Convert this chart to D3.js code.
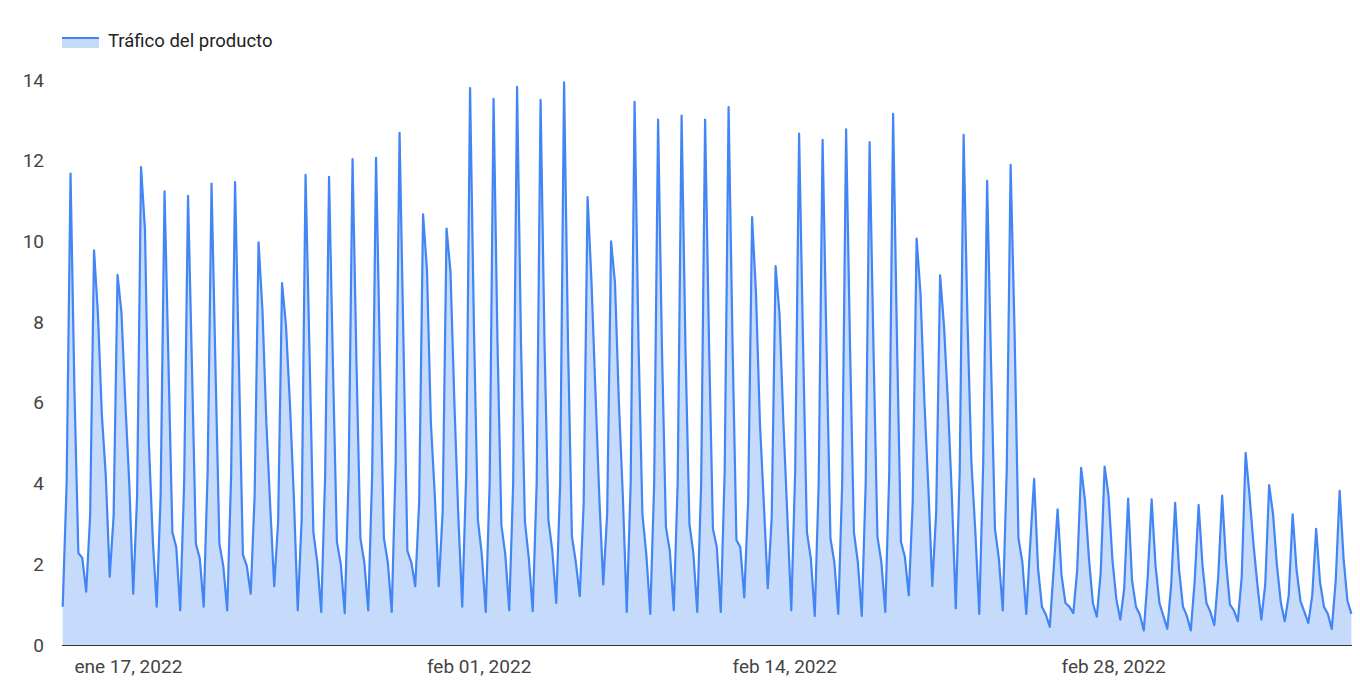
<!DOCTYPE html>
<html>
<head>
<meta charset="utf-8">
<script src="https://cdn.jsdelivr.net/npm/d3@7"></script>
<style>
  html, body { margin: 0; padding: 0; background: #fff; }
  svg { display: block; font-family: Roboto, "Noto Sans", Arial, sans-serif; }
</style>
</head>
<body>
<svg id="chart" width="1360" height="693"></svg>
<script>
// ---- data ----
const seriesName = "Tráfico del producto";
const startTime = Date.UTC(2022, 0, 16, 12); // first 4-hour bucket
const stepHours = 4;
const traffic = [
  0.95, 4.0, 11.68, 6.3, 2.28, 2.16,
  1.32, 3.2, 9.78, 8.2, 5.7, 4.2,
  1.69, 3.2, 9.17, 8.24, 6.0, 4.0,
  1.27, 3.7, 11.84, 10.3, 5.0, 2.6,
  0.95, 3.7, 11.24, 7.0, 2.79, 2.42,
  0.86, 4.0, 11.13, 6.9, 2.51, 2.14,
  0.95, 4.3, 11.43, 6.9, 2.51, 1.96,
  0.86, 4.2, 11.47, 6.9, 2.24, 1.96,
  1.27, 3.7, 9.98, 8.29, 5.5, 3.4,
  1.46, 3.06, 8.97, 7.92, 6.0, 3.7,
  0.86, 3.1, 11.65, 7.3, 2.79, 2.05,
  0.82, 4.2, 11.6, 6.9, 2.56, 2.0,
  0.79, 4.2, 12.04, 7.0, 2.65, 2.05,
  0.86, 4.2, 12.07, 7.0, 2.65, 2.05,
  0.82, 4.5, 12.69, 7.5, 2.33, 2.05,
  1.46, 3.52, 10.67, 9.29, 5.5, 3.7,
  1.46, 3.3, 10.32, 9.25, 6.0, 3.2,
  0.95, 4.2, 13.8, 7.8, 3.1, 2.24,
  0.82, 4.0, 13.53, 7.5, 2.97, 2.24,
  0.86, 4.0, 13.83, 7.5, 3.06, 2.14,
  0.84, 4.0, 13.51, 7.5, 3.1, 2.33,
  1.04, 4.0, 13.94, 7.5, 2.69, 2.05,
  1.21, 3.5, 11.1, 9.0, 6.3, 3.65,
  1.5, 3.25, 10.0, 8.97, 6.0, 3.7,
  0.82, 4.0, 13.46, 7.5, 3.24, 2.24,
  0.77, 4.0, 13.02, 7.3, 2.92, 2.33,
  0.86, 4.0, 13.12, 7.3, 3.0, 2.28,
  0.82, 4.0, 13.02, 7.5, 2.88, 2.42,
  0.82, 4.3, 13.33, 7.5, 2.6, 2.42,
  1.18, 3.6, 10.6, 8.7, 5.5, 3.5,
  1.41, 3.15, 9.39, 8.2, 5.5, 3.2,
  0.86, 4.3, 12.67, 7.5, 2.79, 2.14,
  0.72, 4.0, 12.52, 7.4, 2.65, 2.05,
  0.77, 4.0, 12.78, 7.4, 2.79, 2.05,
  0.72, 4.0, 12.46, 7.3, 2.69, 2.05,
  0.82, 4.2, 13.16, 7.5, 2.56, 2.19,
  1.23, 3.52, 10.07, 8.7, 6.0, 3.9,
  1.46, 3.3, 9.16, 7.9, 6.0, 3.7,
  0.91, 4.3, 12.64, 8.0, 4.5, 2.8,
  0.77, 4.5, 11.5, 7.0, 2.88, 2.14,
  0.86, 4.3, 11.9, 7.8, 2.65, 2.05,
  0.77, 2.5, 4.12, 1.9, 0.95, 0.75,
  0.45, 1.9, 3.36, 1.73, 1.04, 0.95,
  0.79, 1.87, 4.39, 3.57, 2.14, 1.04,
  0.7, 1.8, 4.42, 3.7, 2.1, 1.13,
  0.63, 1.4, 3.63, 1.6, 0.95, 0.75,
  0.36, 1.69, 3.61, 1.96, 1.04, 0.72,
  0.4, 1.5, 3.52, 1.87, 0.95, 0.72,
  0.36, 1.6, 3.47, 1.96, 1.04, 0.82,
  0.49, 1.69, 3.7, 2.05, 1.0, 0.86,
  0.59, 1.69, 4.76, 3.7, 2.5, 1.5,
  0.63, 1.5, 3.96, 3.24, 1.96, 1.04,
  0.59, 1.23, 3.24, 1.87, 1.09, 0.82,
  0.54, 1.23, 2.88, 1.55, 0.95, 0.77,
  0.4, 1.6, 3.82, 2.14, 1.09, 0.77
];
const yTicks = [0, 2, 4, 6, 8, 10, 12, 14];
const xTickDates = [Date.UTC(2022, 0, 17), Date.UTC(2022, 1, 1), Date.UTC(2022, 1, 14), Date.UTC(2022, 1, 28)];
const xTickLabels = ["ene 17, 2022", "feb 01, 2022", "feb 14, 2022", "feb 28, 2022"];

// ---- build ----
(function () {
  const data = traffic.map((v, i) => ({ t: new Date(startTime + i * stepHours * 3600e3), v }));

  const svg = d3.select("#chart");
  const plotLeft = 62.7, plotRight = 1351.4, plotTop = 80, plotBottom = 645;

  const x = d3.scaleUtc()
    .domain([data[0].t, data[data.length - 1].t])
    .range([plotLeft, plotRight]);
  const y = d3.scaleLinear().domain([0, 14]).range([plotBottom, plotTop]);

  const blue = "#4285f4";
  const fill = "#c6dafc";

  svg.append("path")
    .datum(data)
    .attr("fill", fill)
    .attr("d", d3.area().x(d => x(d.t)).y0(y(0)).y1(d => y(d.v)));

  svg.append("path")
    .datum(data)
    .attr("fill", "none")
    .attr("stroke", blue)
    .attr("stroke-width", 2.2)
    .attr("stroke-linejoin", "round")
    .attr("d", d3.line().x(d => x(d.t)).y(d => y(d.v)));

  svg.append("line")
    .attr("x1", 62).attr("x2", 1352)
    .attr("y1", y(0) + 0.5).attr("y2", y(0) + 0.5)
    .attr("stroke", "#333").attr("stroke-width", 1);

  const yAxis = d3.axisLeft(y).tickValues(yTicks).tickSize(0).tickPadding(0).tickFormat(d3.format("d"));
  const yg = svg.append("g").attr("transform", "translate(44,0)").call(yAxis);
  yg.select(".domain").remove();
  yg.selectAll("text").attr("font-size", 19).attr("fill", "#444").attr("font-family", "Roboto, sans-serif");

  const xg = svg.append("g");
  xg.selectAll("text")
    .data(xTickDates)
    .join("text")
    .attr("x", d => x(new Date(d)))
    .attr("y", 673)
    .attr("text-anchor", "start")
    .attr("font-size", 19)
    .attr("fill", "#444")
    .text((d, i) => xTickLabels[i]);

  const lg = svg.append("g").attr("transform", "translate(62,0)");
  lg.append("rect").attr("x", 0).attr("y", 38).attr("width", 37).attr("height", 10).attr("fill", fill);
  lg.append("line").attr("x1", 0).attr("x2", 37).attr("y1", 38).attr("y2", 38).attr("stroke", blue).attr("stroke-width", 2.2);
  lg.append("text").attr("x", 46).attr("y", 47).attr("font-size", 18.5).attr("fill", "#222").text(seriesName);
})();
</script>
</body>
</html>
